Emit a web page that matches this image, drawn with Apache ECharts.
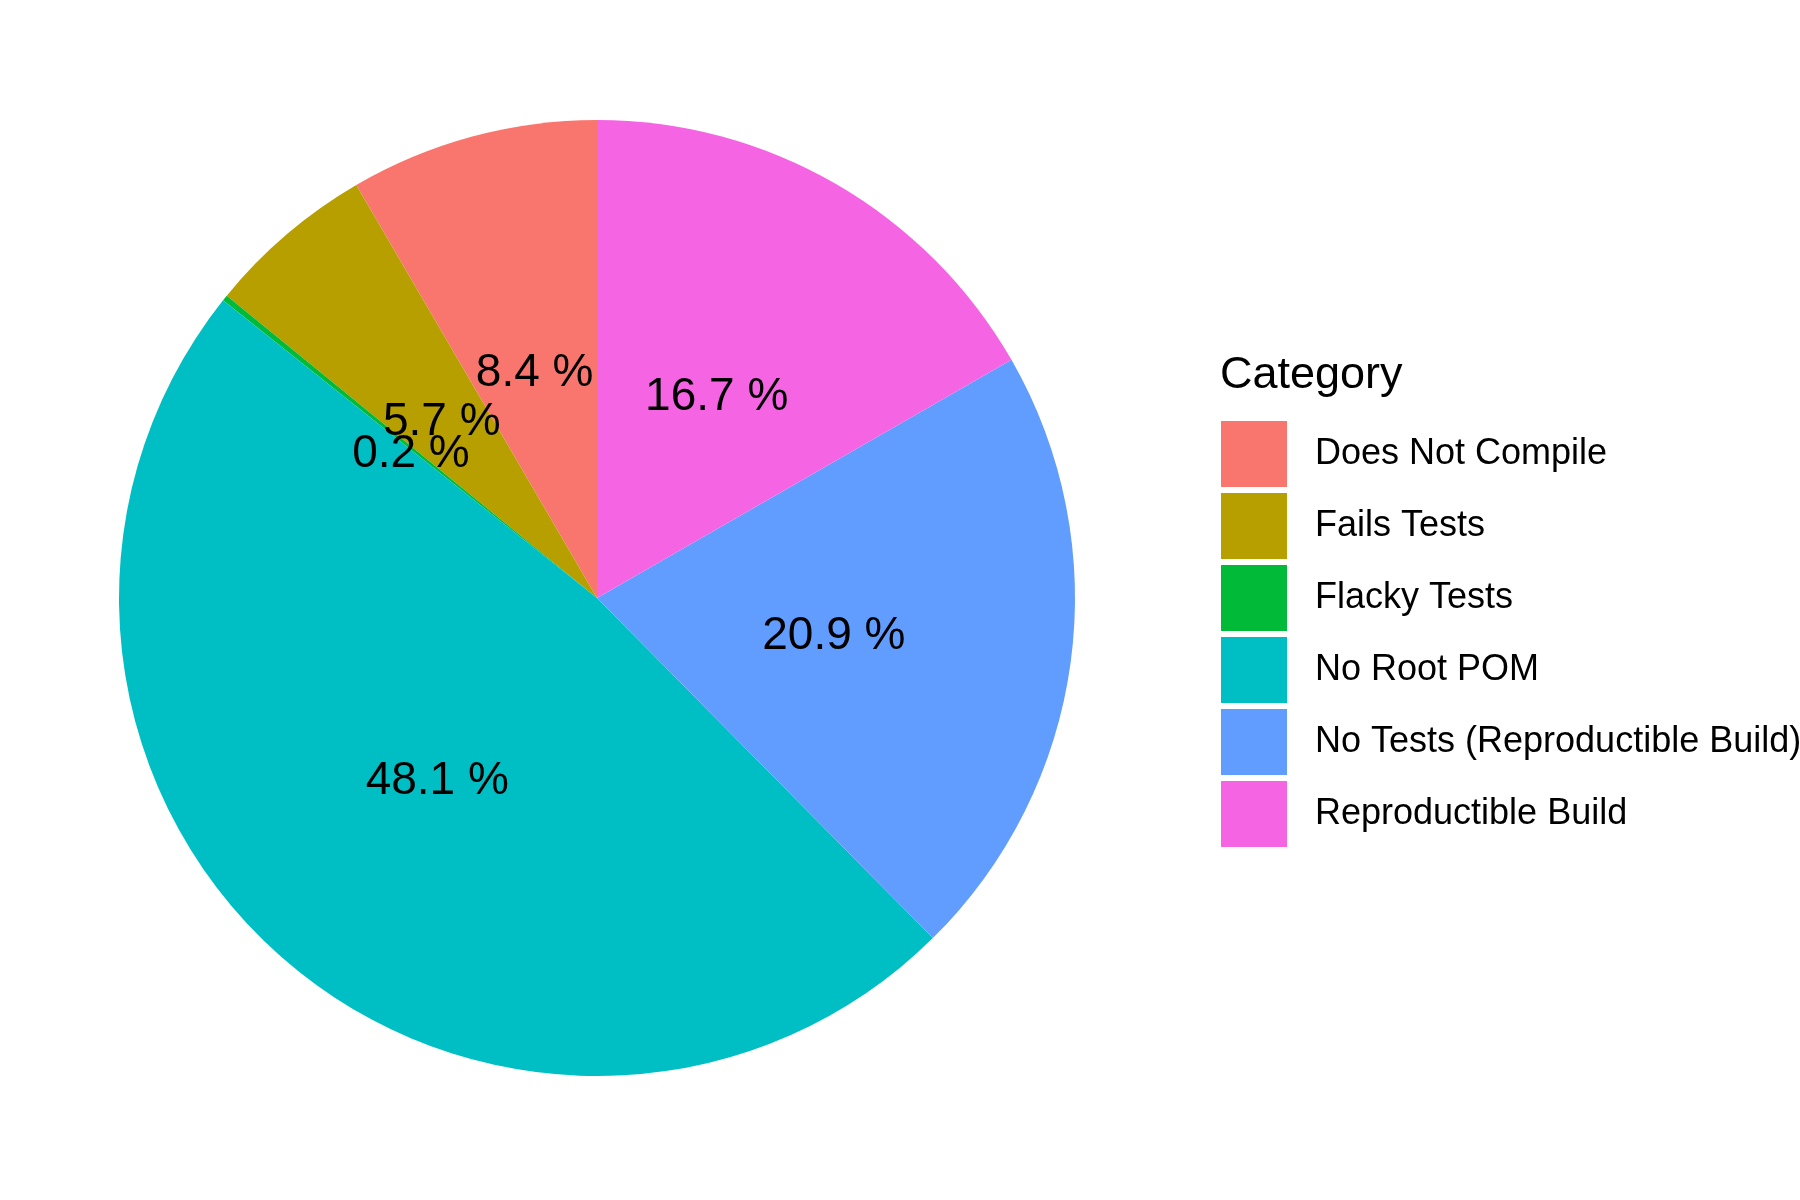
<!DOCTYPE html>
<html>
<head>
<meta charset="utf-8">
<script src="https://cdn.jsdelivr.net/npm/echarts@6/dist/echarts.min.js"></script>
<style>
  html, body { margin: 0; padding: 0; background: #fff; }
  #chart { width: 1800px; height: 1200px; }
</style>
</head>
<body>
<div id="chart"></div>
<script>
// categories and shares (percent)
const categories = ['Does Not Compile', 'Fails Tests', 'Flacky Tests', 'No Root POM', 'No Tests (Reproductible Build)', 'Reproductible Build'];
const shares = [8.4, 5.7, 0.2, 48.1, 20.9, 16.7];
const colors = ['#F8766D', '#B79F00', '#00BA38', '#00BFC4', '#619CFF', '#F564E3'];

const font = '"Liberation Sans", Arial, sans-serif';
const pieCenter = [597, 598];
const pieRadius = 478;
// label layer sits a few px lower so the digits centre like the reference
const labelCenter = [597, 604];

// label anchors: middle of each slice, half way out (like ggplot's geom_text on polar)
const total = shares.reduce((a, b) => a + b, 0);
let acc = 0;
const labelPoints = shares.map(v => {
  const mid = acc + v / 2;
  acc += v;
  return [0.5, mid / total * 100, v];
});

const chart = echarts.init(document.getElementById('chart'), null, { renderer: 'canvas' });

const option = {
  animation: false,
  backgroundColor: '#fff',
  color: colors,
  graphic: [{
    type: 'text',
    left: 1220,
    top: 353,
    style: {
      text: 'Category',
      font: '45px ' + font,
      fill: '#000'
    }
  }],
  legend: {
    orient: 'vertical',
    left: 1221,
    top: 421,
    padding: 0,
    itemWidth: 66,
    itemHeight: 66,
    itemGap: 6,
    icon: 'rect',
    selectedMode: false,
    data: categories,
    textStyle: {
      fontFamily: font,
      fontSize: 36,
      color: '#000',
      padding: [14, 0, 0, 23]
    }
  },
  polar: { center: labelCenter, radius: pieRadius },
  angleAxis: { type: 'value', min: 0, max: 100, startAngle: 90, clockwise: false, show: false },
  radiusAxis: { type: 'value', min: 0, max: 1, show: false },
  series: [{
    type: 'pie',
    center: pieCenter,
    radius: [0, pieRadius],
    startAngle: 90,
    clockwise: false,
    silent: true,
    itemStyle: { borderWidth: 0 },
    label: { show: false },
    labelLine: { show: false },
    emphasis: { disabled: true },
    data: categories.map((c, i) => ({ name: c, value: shares[i] }))
  }, {
    type: 'scatter',
    coordinateSystem: 'polar',
    silent: true,
    symbolSize: 1,
    itemStyle: { color: 'rgba(0,0,0,0)' },
    label: {
      show: true,
      position: 'inside',
      fontFamily: font,
      fontSize: 46,
      color: '#000',
      opacity: 1,
      textBorderWidth: 0,
      textBorderColor: 'transparent',
      formatter: p => p.value[2].toFixed(1) + ' %'
    },
    labelLayout: { hideOverlap: false },
    emphasis: { disabled: true },
    data: labelPoints
  }]
};

chart.setOption(option);
</script>
</body>
</html>
